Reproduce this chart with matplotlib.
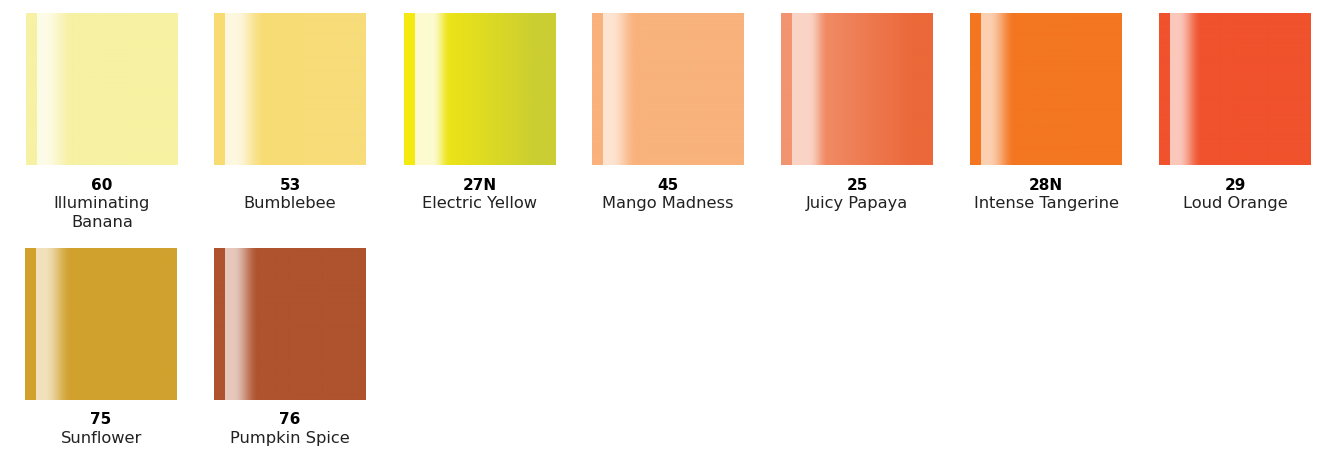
import numpy as np
import matplotlib
matplotlib.use("Agg")
import matplotlib.pyplot as plt
from matplotlib.colors import to_rgb

codes = ["60", "53", "27N", "45", "25", "28N", "29", "75", "76"]
names = ["Illuminating\nBanana", "Bumblebee", "Electric Yellow", "Mango Madness",
         "Juicy Papaya", "Intense Tangerine", "Loud Orange", "Sunflower", "Pumpkin Spice"]
left_colors = ["#F7F1A3", "#F8DC72", "#F5EA10", "#F9B27C", "#F29470",
               "#F47620", "#F0522D", "#D2A12D", "#AE532E"]
right_colors = ["#F7F1A3", "#F7DC7A", "#CBCE32", "#F9B27C", "#EB683A",
                "#F47620", "#F0522D", "#D1A12F", "#AE532E"]
# highlight shape per swatch (style): plateau end, fade end, peak strength
hl_plateau = [19, 21, 28, 19, 28, 19, 19, 19, 19]
hl_fade = [46, 50, 46, 44, 46, 44, 42, 46, 44]
hl_peak = [0.72, 0.78, 0.8, 0.65, 0.6, 0.65, 0.68, 0.68, 0.68]

# layout (style)
col_x = [[26, 214, 404, 592, 781, 970, 1159], [25, 214]]
row_y = [13, 248]

W, H = 1326, 450
fig = plt.figure(figsize=(W / 100, H / 100), dpi=100)
ax = fig.add_axes([0, 0, 1, 1])
ax.set_xlim(0, W)
ax.set_ylim(H, 0)
ax.axis("off")

ncols = 7
sw = 152
t = np.arange(sw, dtype=float)

for i, (code, name, cl, cr) in enumerate(zip(codes, names, left_colors, right_colors)):
    r, c = divmod(i, ncols)
    x0 = col_x[r][c]
    y0 = row_y[r]
    a = np.array(to_rgb(cl))
    b = np.array(to_rgb(cr))
    frac = np.clip((t - 20) / (sw - 40), 0, 1)[:, None]
    base = a * (1 - frac) + b * frac
    p, f, pk = hl_plateau[i], hl_fade[i], hl_peak[i]
    ramp = np.clip((f - t) / (f - p), 0, 1)
    ramp = ramp * ramp * (3 - 2 * ramp)
    hl = np.where(t < 11, 0.0, np.where(t <= p, pk, pk * ramp))
    col = base * (1 - hl[:, None]) + np.ones(3) * hl[:, None]
    img = np.repeat(col[None, :, :], 4, axis=0)
    ax.imshow(img, extent=(x0, x0 + sw, y0 + sw, y0), aspect="auto",
              interpolation="bilinear", zorder=1)
    cx = x0 + sw / 2
    ax.text(cx, y0 + sw + 20, code, ha="center", va="center", fontsize=11,
            fontweight="bold", family="DejaVu Sans", color="#000000")
    ax.text(cx, y0 + sw + 31, name, ha="center", va="top", fontsize=11.7,
            family="DejaVu Sans", color="#222222", linespacing=1.3)

fig.savefig("out.png", dpi=100)
